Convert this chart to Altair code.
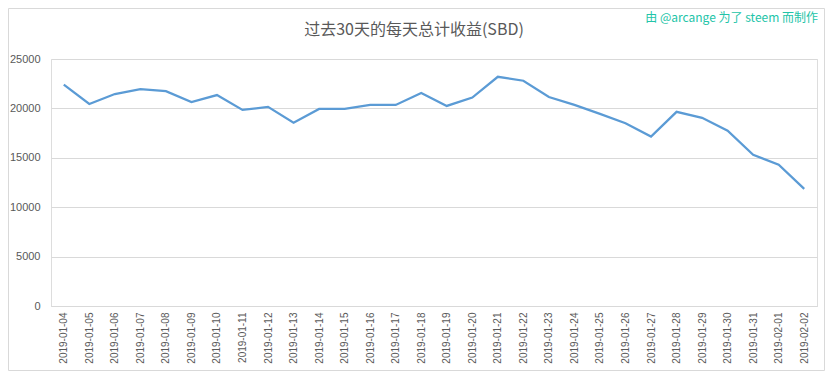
import altair as alt
import pandas as pd

dates = ["2019-01-04", "2019-01-05", "2019-01-06", "2019-01-07", "2019-01-08",
         "2019-01-09", "2019-01-10", "2019-01-11", "2019-01-12", "2019-01-13",
         "2019-01-14", "2019-01-15", "2019-01-16", "2019-01-17", "2019-01-18",
         "2019-01-19", "2019-01-20", "2019-01-21", "2019-01-22", "2019-01-23",
         "2019-01-24", "2019-01-25", "2019-01-26", "2019-01-27", "2019-01-28",
         "2019-01-29", "2019-01-30", "2019-01-31", "2019-02-01", "2019-02-02"]
values = [22400, 20450, 21450, 21950, 21750, 20650, 21350, 19850, 20150, 18550,
          19950, 19950, 20350, 20350, 21550, 20250, 21100, 23200, 22800, 21150,
          20350, 19450, 18500, 17150, 19650, 19050, 17750, 15300, 14300, 11850]
y_ticks = [0, 5000, 10000, 15000, 20000, 25000]
title_text = "过去30天的每天总计收益(SBD)"
credit_text = "由 @arcange 为了 steem 而制作"

df = pd.DataFrame({"date": dates, "value": values})

W, H = 766, 247

line = alt.Chart(df).mark_line(color="#5b9bd5", strokeWidth=2.25).encode(
    x=alt.X("date:O", sort=None, title=None,
            scale=alt.Scale(type="point", padding=0.5),
            axis=alt.Axis(labelAngle=-90, ticks=False, domainColor="#d9d9d9",
                          labelColor="#595959", labelFont="Liberation Sans",
                          labelFontSize=10, labelPadding=6)),
    y=alt.Y("value:Q", title=None,
            scale=alt.Scale(domain=[0, 25000], nice=False),
            axis=alt.Axis(values=y_ticks, ticks=False, domain=False,
                          gridColor="#d9d9d9", labelColor="#595959",
                          labelFont="Liberation Sans", labelFontSize=11,
                          labelPadding=11, format="d")),
)

title = alt.Chart(df).transform_filter("datum.date == '2019-01-04'").mark_text(
    font="Noto Sans CJK SC", fontSize=16, fontWeight=400, color="#595959",
    align="center", baseline="middle"
).encode(x=alt.value(363), y=alt.value(-29), text=alt.value(title_text))

credit = alt.Chart(df).transform_filter("datum.date == '2019-01-04'").mark_text(
    font="Noto Sans CJK SC", fontSize=12, fontWeight=400, color="#22c4a8",
    align="right", baseline="middle"
).encode(x=alt.value(767), y=alt.value(-41), text=alt.value(credit_text))

border = alt.Chart(df).transform_filter("datum.date == '2019-01-04'").mark_rect(
    fill=None, stroke="#d9d9d9", strokeWidth=1
).encode(x=alt.value(-42.5), x2=alt.value(773.5),
         y=alt.value(-50.5), y2=alt.value(311.5))

chart = alt.layer(line, title, credit, border).properties(
    width=W, height=H,
    autosize=alt.AutoSizeParams(type="none"),
    padding={"left": 43, "top": 51, "right": 8, "bottom": 65},
).configure_view(stroke=None).configure(background="white")

chart.save("out.html", embed_options={"renderer": "svg", "actions": False})
